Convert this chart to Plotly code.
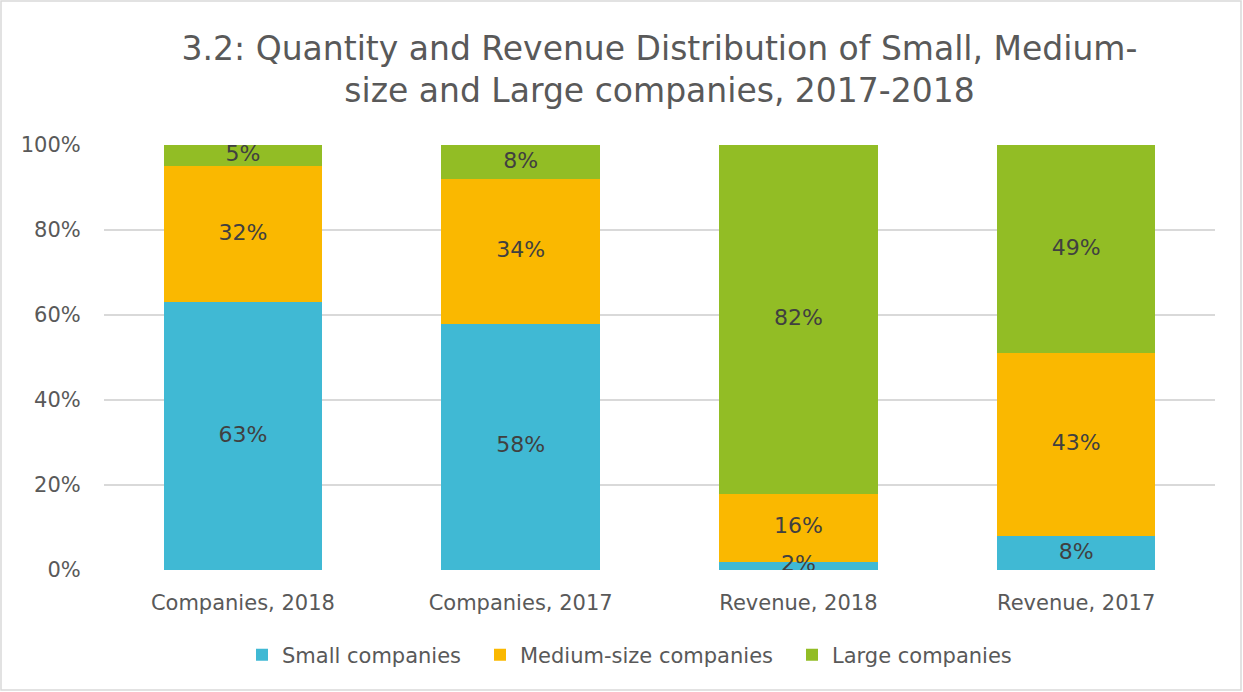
import plotly.graph_objects as go

categories = ['Companies, 2018', 'Companies, 2017', 'Revenue, 2018', 'Revenue, 2017']
small = [63, 58, 2, 8]
medium = [32, 34, 16, 43]
large = [5, 8, 82, 49]
series_names = ['Small companies', 'Medium-size companies', 'Large companies']
colors = ['#40B9D4', '#FAB800', '#92BD25']

W, H = 1243, 692
ml, mr, mt, mb = 104, 28, 145, 122
pw, ph = W - ml - mr, H - mt - mb
font = 'DejaVu Sans'

series = [small, medium, large]
legend_ids = ['legend', 'legend2', 'legend3']
legend_px = [242, 480, 792]  # left edge of each legend entry, in pixels

fig = go.Figure()
base = [0] * len(categories)
label_x, label_y, label_t = [], [], []
for name, vals, col, lid in zip(series_names, series, colors, legend_ids):
    fig.add_trace(go.Bar(
        x=categories, y=[v / 100 for v in vals], name=name, legend=lid,
        marker=dict(color=col, line=dict(width=0)),
        hovertemplate='%{x}<br>' + name + ': %{y:.0%}<extra></extra>',
    ))
    # data labels, centred on each segment, drawn above all bars
    for i, v in enumerate(vals):
        label_x.append(categories[i])
        label_y.append((base[i] + v / 2) / 100)
        label_t.append(f'{v}%')
        base[i] += v

fig.add_trace(go.Scatter(
    x=label_x, y=label_y, text=label_t, mode='text', showlegend=False,
    textposition='middle center', hoverinfo='skip',
    textfont=dict(family=font, size=22, color='#404040'),
))

# outer light border around the chart
fig.add_shape(type='rect', xref='paper', yref='paper',
              x0=(1 - ml) / pw, x1=(W - 2 - ml) / pw,
              y0=-(H - 2 - mt - ph) / ph, y1=(mt - 1) / ph + 1,
              line=dict(color='#d9d9d9', width=1.5), layer='below')

legend_style = dict(orientation='h', xanchor='left', y=-0.2, yanchor='middle',
                    font=dict(family=font, size=21, color='#595959'),
                    itemwidth=30, bgcolor='rgba(0,0,0,0)')

fig.update_layout(
    width=W, height=H, barmode='stack', bargap=0.43,
    margin=dict(l=ml, r=mr, t=mt, b=mb),
    plot_bgcolor='#ffffff', paper_bgcolor='#ffffff',
    font=dict(family=font, color='#595959'),
    title=dict(text='3.2: Quantity and Revenue Distribution of Small, Medium-<br>size and Large companies, 2017-2018',
               x=0.5, xref='paper', xanchor='center', y=0.914, yanchor='middle',
               font=dict(family=font, size=33, color='#595959')),
    xaxis=dict(showgrid=False, ticks='outside', ticklen=14, tickcolor='rgba(0,0,0,0)',
               tickfont=dict(family=font, size=21, color='#595959'), showline=False),
    yaxis=dict(range=[0, 1], tickvals=[0, 0.2, 0.4, 0.6, 0.8, 1.0], tickformat='.0%',
               gridcolor='#d9d9d9', gridwidth=1.5, zeroline=False, showline=False,
               ticks='outside', ticklen=18, tickcolor='rgba(0,0,0,0)',
               tickfont=dict(family=font, size=21, color='#595959')),
    legend=dict(x=(legend_px[0] - ml) / pw, **legend_style),
    legend2=dict(x=(legend_px[1] - ml) / pw, **legend_style),
    legend3=dict(x=(legend_px[2] - ml) / pw, **legend_style),
    showlegend=True,
)

fig.write_html('out.html', config={'displayModeBar': False},
               post_script="document.body.style.margin='0px';")
